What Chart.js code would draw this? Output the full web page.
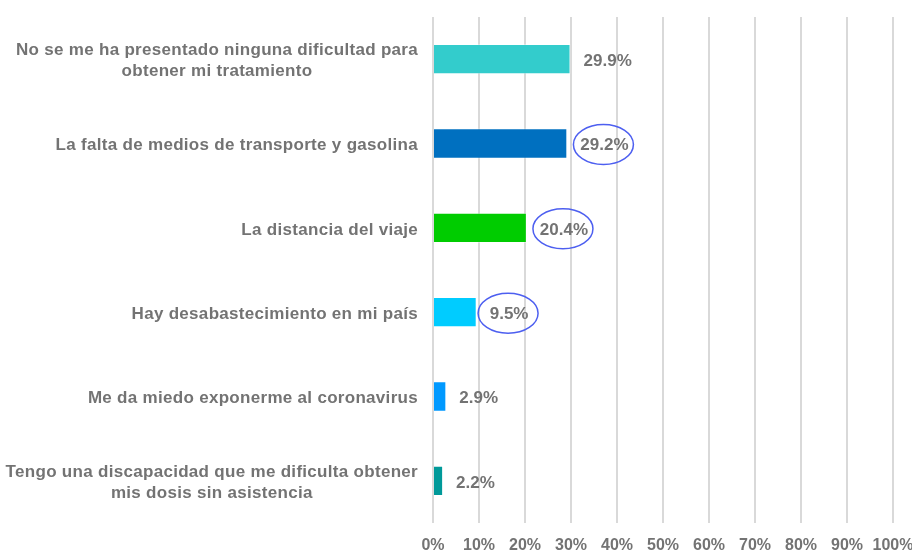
<!DOCTYPE html>
<html>
<head>
<meta charset="utf-8">
<script src="https://cdn.jsdelivr.net/npm/chart.js@4"></script>
<style>
  html, body { margin:0; padding:0; background:#fff; overflow:hidden; }
  #wrap { width:912px; height:557px; position:relative; }
</style>
</head>
<body>
<div id="wrap"><canvas id="chart"></canvas></div>
<script>
// categories (each is a list of lines) and values (%)
const categories = [
  ['No se me ha presentado ninguna dificultad para', 'obtener mi tratamiento'],
  ['La falta de medios de transporte y gasolina'],
  ['La distancia del viaje'],
  ['Hay desabastecimiento en mi país'],
  ['Me da miedo exponerme al coronavirus'],
  ['Tengo una discapacidad que me dificulta obtener', 'mis dosis sin asistencia']
];
const values = [29.9, 29.2, 20.4, 9.5, 2.9, 2.2];
const barColors = ['#33CCCC', '#0070C0', '#00CC00', '#00CCFF', '#0099FF', '#009999'];
const circled = [false, true, true, true, false, false];
const xTicks = [0, 10, 20, 30, 40, 50, 60, 70, 80, 90, 100];

const textColor = '#737373';
const fontFamily = '"Liberation Sans", Arial, sans-serif';

// draws the category labels (right block, centred lines), value labels and ellipses
const labelPlugin = {
  id: 'labels',
  afterDatasetsDraw(chart){
    const ctx = chart.ctx;
    const xs = chart.scales.x, ys = chart.scales.y;
    ctx.save();
    ctx.fillStyle = textColor;
    ctx.textBaseline = 'middle';
    ctx.font = 'bold 17px ' + fontFamily;
    ctx.letterSpacing = '0.3px';
    categories.forEach((lines, i)=>{
      const yc = ys.getPixelForValue(i) + 2;
      const maxW = Math.max(...lines.map(l => ctx.measureText(l).width));
      const cx = 418 - maxW / 2;
      const lh = 21;
      ctx.textAlign = 'center';
      lines.forEach((l, j)=>{
        ctx.fillText(l, cx, yc + (j - (lines.length - 1) / 2) * lh);
      });
    });
    ctx.letterSpacing = '0px';
    values.forEach((v, i)=>{
      const yc = ys.getPixelForValue(i);
      const x0 = xs.getPixelForValue(v) + 13;
      const txt = v.toFixed(1) + '%';
      const w = ctx.measureText(txt).width;
      ctx.textAlign = 'left';
      ctx.fillStyle = textColor;
      ctx.fillText(txt, x0, yc + 2);
      if (circled[i]){
        ctx.beginPath();
        ctx.strokeStyle = '#4D5FF0';
        ctx.lineWidth = 1.5;
        ctx.ellipse(x0 + w / 2 - 1, yc + 1, 30, 20, 0, 0, Math.PI * 2);
        ctx.stroke();
      }
    });
    ctx.restore();
  }
};

new Chart(document.getElementById('chart'), {
  type: 'bar',
  data: {
    labels: categories.map(c => c.join(' ')),
    datasets: [{
      data: values,
      backgroundColor: barColors,
      borderColor: 'rgba(255,255,255,0.35)',
      borderWidth: 1,
      categoryPercentage: 1,
      barPercentage: 0.36
    }]
  },
  options: {
    indexAxis: 'y',
    responsive: true,
    maintainAspectRatio: false,
    animation: false,
    layout: { padding: { top: 17, right: 0, left: 0, bottom: 0 } },
    plugins: { legend: { display: false }, tooltip: { enabled: false } },
    scales: {
      x: {
        min: 0, max: 100,
        afterBuildTicks(scale){ scale.ticks = xTicks.map(v => ({ value: v })); },
        afterFit(scale){
          scale.height = 34;
          scale.paddingLeft = 0;
          scale.paddingRight = 19;
        },
        grid: { color: '#D9D9D9', lineWidth: 2, drawTicks: false },
        border: { display: false },
        ticks: {
          padding: 13,
          autoSkip: false,
          maxRotation: 0,
          minRotation: 0,
          color: textColor,
          font: { family: fontFamily, size: 16, weight: 'bold' },
          callback: v => v + '%'
        }
      },
      y: {
        grid: { display: false },
        border: { display: false },
        ticks: { display: false },
        afterFit(scale){ scale.width = 433; }
      }
    }
  },
  plugins: [labelPlugin]
});
</script>
</body>
</html>
